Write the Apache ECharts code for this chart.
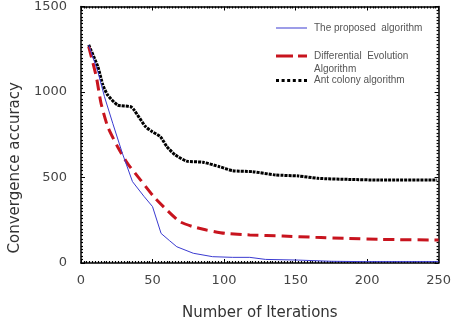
<!DOCTYPE html>
<html><head><meta charset="utf-8">
<script src="https://cdn.jsdelivr.net/npm/echarts@6/dist/echarts.min.js"></script>
<style>html,body{margin:0;padding:0;background:#fff}#c{width:454px;height:326px}</style>
</head><body><div id="c"></div>
<script>
var seriesNames = ['The proposed algorithm', 'Differential Evolution Algorithm', 'Ant colony algorithm'];
var xTicks = [0, 50, 100, 150, 200, 250];
var yTicks = [0, 500, 1000, 1500];

var proposedX = [5.4, 11.8, 16.4, 22.2, 29, 36, 44, 50, 56, 62, 67, 78.5, 92, 106, 118, 129, 152, 175, 198, 250];
var proposedY = [1275, 1119, 973, 817, 640, 476, 390, 330, 173, 130, 95, 57, 37, 33, 33, 21, 17, 10, 8, 8];

var deX = [5.4, 10.7, 14, 18.7, 25.6, 32.5, 41.7, 50.9, 60, 69, 78.5, 87.7, 101, 118, 141, 164, 187, 210, 250];
var deY = [1265, 1090, 934, 797, 680, 583, 485, 388, 310, 242, 212, 193, 173, 164, 158, 150, 144, 138, 134];

var antX = [5.4, 11.8, 15.3, 18.7, 25.6, 34.8, 37.1, 45.2, 49.8, 55.5, 60.1, 65.9, 73.9, 85.4, 96.9, 106, 120, 136, 152, 166, 187, 209, 249];
var antY = [1275, 1148, 1041, 982, 924, 914, 895, 797, 768, 739, 680, 632, 596, 589, 563, 540, 534, 515, 509, 495, 489, 485, 485];

function pairs(xs, ys) { return xs.map(function (x, i) { return [x, ys[i]]; }); }

var chart = echarts.init(document.getElementById('c'));
var frameLine = { show: true, onZero: false, lineStyle: { color: '#000', width: 1.5 } };
var majorTick = { show: true, inside: true, length: 4, lineStyle: { color: '#000', width: 1 } };
var minorTick = { show: true, splitNumber: 25, length: 2, lineStyle: { color: '#000', width: 1.2 } };
var labelFont = { fontFamily: 'DejaVu Sans', fontSize: 13, color: '#444' };
var legendText = { fontFamily: 'Liberation Sans', fontSize: 10, color: '#555', padding: [0, 0, 0, 2] };

chart.setOption({
  animation: false,
  backgroundColor: '#fff',
  grid: { left: 79.5, right: 12, top: 6.5, bottom: 63, containLabel: false },
  xAxis: [
    { type: 'value', min: 0, max: 250, interval: 50, position: 'bottom',
      name: 'Number of Iterations', nameLocation: 'middle', nameGap: 43,
      nameTextStyle: { fontFamily: 'DejaVu Sans', fontSize: 15, color: '#333' },
      axisLine: frameLine, axisTick: majorTick, minorTick: minorTick,
      axisLabel: Object.assign({ margin: 11, formatter: function (v) { return xTicks.indexOf(v) >= 0 ? String(v) : ''; } }, labelFont),
      splitLine: { show: false } },
    { type: 'value', min: 0, max: 250, interval: 50, position: 'top',
      axisLine: frameLine, axisTick: majorTick, minorTick: minorTick,
      axisLabel: { show: false }, splitLine: { show: false } }
  ],
  yAxis: [
    { type: 'value', min: 0, max: 1500, interval: 500, position: 'left',
      name: 'Convergence accuracy', nameLocation: 'middle', nameGap: 52,
      nameTextStyle: { fontFamily: 'DejaVu Sans', fontSize: 15, color: '#333', padding: [0, 66, 0, 0] },
      axisLine: frameLine, axisTick: majorTick, minorTick: minorTick,
      axisLabel: Object.assign({ margin: 14, formatter: function (v) { return yTicks.indexOf(v) >= 0 ? String(v) : ''; } }, labelFont),
      splitLine: { show: false } },
    { type: 'value', min: 0, max: 1500, interval: 500, position: 'right',
      axisLine: frameLine, axisTick: majorTick, minorTick: minorTick,
      axisLabel: { show: false }, splitLine: { show: false } }
  ],
  legend: [
    { id: 'lg0', data: [seriesNames[0]], left: 276, top: 23, padding: 0, itemWidth: 31, itemHeight: 10,
      icon: 'path://M0,4.5h31v1h-31z', formatter: function () { return 'The proposed  algorithm'; }, textStyle: legendText },
    { id: 'lg1', data: [seriesNames[1]], left: 276, top: 51, padding: 0, itemWidth: 31, itemHeight: 10,
      icon: 'path://M0,3.5h17v3h-17z M22,3.5h9v3h-9z',
      formatter: function () { return 'Differential  Evolution'; }, textStyle: legendText },
    { id: 'lg2', data: [seriesNames[2]], left: 276, top: 75.5, padding: 0, itemWidth: 31, itemHeight: 10,
      icon: 'path://M0,3.5h3v3h-3z M5.6,3.5h3v3h-3z M11.2,3.5h3v3h-3z M16.8,3.5h3v3h-3z M22.4,3.5h3v3h-3z M28,3.5h3v3h-3z',
      textStyle: legendText }
  ],
  graphic: [
    { type: 'text', left: 314, top: 64, style: { text: 'Algorithm', fontFamily: 'Liberation Sans', fontSize: 10, fill: '#555' } }
  ],
  series: [
    { name: seriesNames[0], type: 'line', data: pairs(proposedX, proposedY), showSymbol: false, symbol: 'none',
      lineStyle: { color: '#3a3ad0', width: 1 }, itemStyle: { color: '#3a3ad0' }, z: 4 },
    { name: seriesNames[1], type: 'line', data: pairs(deX, deY), showSymbol: false, symbol: 'none', smooth: 0.2,
      lineStyle: { color: '#c8141e', width: 3, type: [11, 6] }, itemStyle: { color: '#c8141e' }, z: 3 },
    { name: seriesNames[2], type: 'line', data: pairs(antX, antY), showSymbol: false, symbol: 'none', smooth: 0.2,
      lineStyle: { color: '#000', width: 3, type: [3, 1] }, itemStyle: { color: '#000' }, z: 2 }
  ]
});
</script></body></html>
